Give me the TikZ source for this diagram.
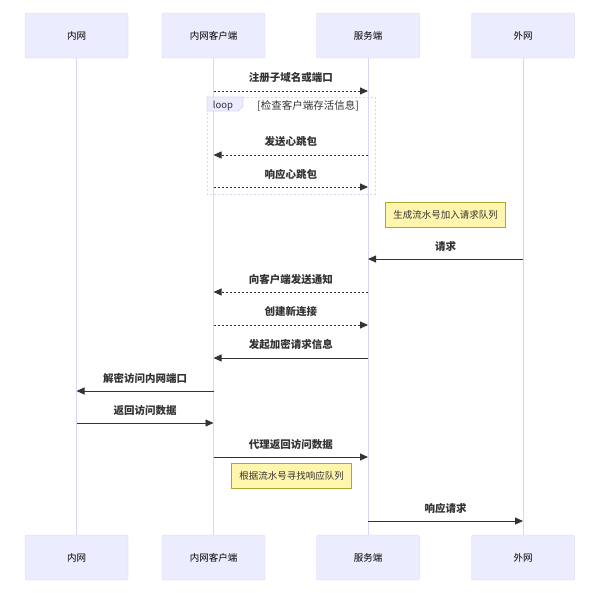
\documentclass[tikz,border=0pt]{standalone}
\usepackage{fontspec}
\setmainfont{Noto Sans CJK SC}
\usetikzlibrary{arrows.meta}
\definecolor{actorbg}{HTML}{ECECFF}
\definecolor{actorln}{HTML}{DCD3F5}
\definecolor{notebg}{HTML}{FFF5AD}
\definecolor{noteln}{HTML}{AAAA33}
\definecolor{msgln}{HTML}{333333}
\begin{document}
\begin{tikzpicture}[x=1pt,y=-1pt,
  actor/.style={draw=actorln,fill=actorbg,rounded corners=2pt,inner sep=0pt,
    minimum width=103pt,minimum height=45pt,font=\fontsize{9.5}{11}\selectfont},
  lifeline/.style={draw=actorln,line width=0.9pt},
  note/.style={draw=noteln,fill=notebg,inner sep=0pt,minimum width=120pt,
    minimum height=25pt,text=msgln,font=\fontsize{9.5}{11}\selectfont},
  msg/.style={draw=msgln,line width=0.9pt,-{Triangle[length=8pt,width=7pt]}},
  dotmsg/.style={msg,dash pattern=on 2pt off 2pt},
  msgtext/.style={midway,yshift=13pt,inner sep=0pt,text=msgln,
    font=\bfseries\fontsize{10.5}{12}\selectfont},
  loopline/.style={draw=actorln,line width=0.8pt,dash pattern=on 2pt off 2pt},
  looptext/.style={inner sep=0pt,text=msgln,font=\fontsize{9.5}{11}\selectfont}]
\useasboundingbox (0,0) rectangle (612,592);

\node[actor] (t1) at (76.5,35.5) {内网};
\node[actor] (t2) at (213.5,35.5) {内网客户端};
\node[actor] (t3) at (368,35.5) {服务端};
\node[actor] (t4) at (523,35.5) {外网};
\node[actor] (b1) at (76.5,557.5) {内网};
\node[actor] (b2) at (213.5,557.5) {内网客户端};
\node[actor] (b3) at (368,557.5) {服务端};
\node[actor] (b4) at (523,557.5) {外网};

\draw[lifeline] (t1) -- (b1);
\draw[lifeline] (t2) -- (b2);
\draw[lifeline] (t3) -- (b3);
\draw[lifeline] (t4) -- (b4);

\draw[dotmsg] (t2 |- 0,91) -- node[msgtext] {注册子域名或端口} (t3 |- 0,91);

% loop frame
\draw[loopline] (207,97) rectangle (375,194);
\draw[draw=actorln,fill=actorbg,line width=0.8pt] (207,97) -- (243,97) -- (243,106) -- (238,111) -- (207,111) -- cycle;
\node[looptext] (looplbl) at (223,105.5) {loop};
\node[looptext,font=\fontsize{10.5}{12}\selectfont] (loopcond) at (308,105.5) {[检查客户端存活信息]};

\draw[dotmsg] (t3 |- 0,155) -- node[msgtext] {发送心跳包} (t2 |- 0,155);
\draw[dotmsg] (t2 |- 0,187) -- node[msgtext] {响应心跳包} (t3 |- 0,187);

\node[note] (n1) at (445.5,214.5) {生成流水号加入请求队列};

\draw[msg] (t4 |- 0,259) -- node[msgtext] {请求} (t3 |- 0,259);
\draw[dotmsg] (t3 |- 0,292) -- node[msgtext] {向客户端发送通知} (t2 |- 0,292);
\draw[dotmsg] (t2 |- 0,325) -- node[msgtext] {创建新连接} (t3 |- 0,325);
\draw[msg] (t3 |- 0,358) -- node[msgtext] {发起加密请求信息} (t2 |- 0,358);
\draw[msg] (t2 |- 0,391) -- node[msgtext] {解密访问内网端口} (t1 |- 0,391);
\draw[msg] (t1 |- 0,423) -- node[msgtext] {返回访问数据} (t2 |- 0,423);
\draw[msg] (t2 |- 0,457) -- node[msgtext] {代理返回访问数据} (t3 |- 0,457);

\node[note] (n2) at (291.5,475.5) {根据流水号寻找响应队列};

\draw[msg] (t3 |- 0,521) -- node[msgtext] {响应请求} (t4 |- 0,521);
\end{tikzpicture}
\end{document}
